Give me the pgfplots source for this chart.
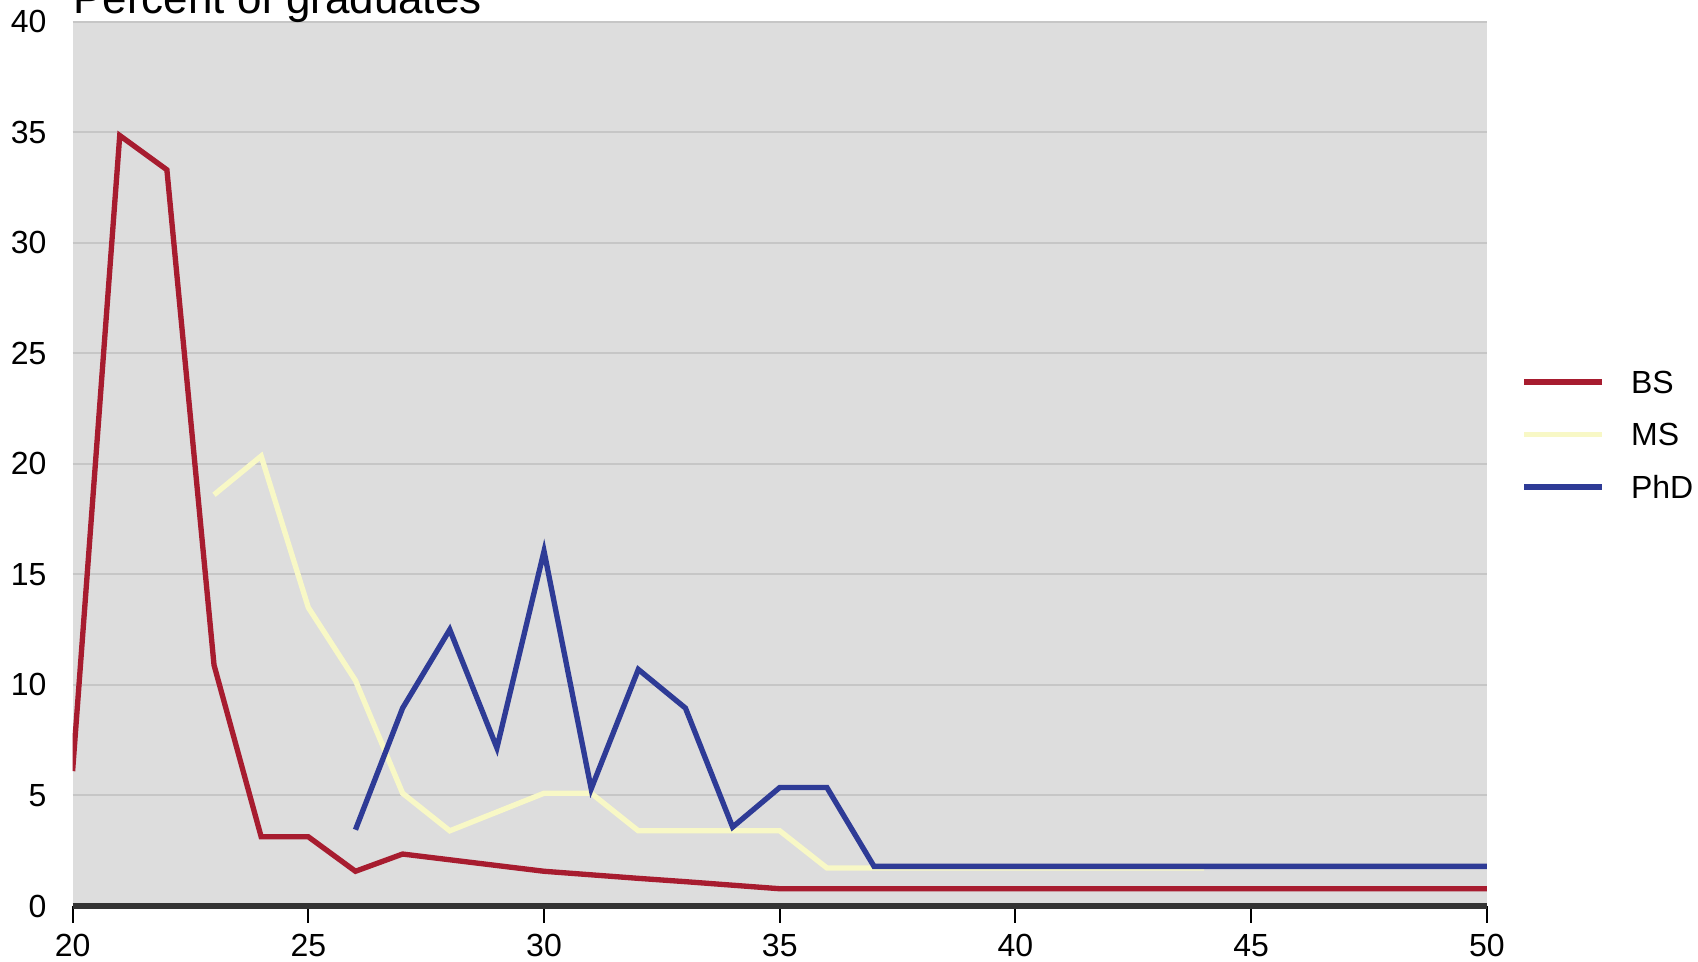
\documentclass[border=0pt]{standalone}
\usepackage{pgfplots}
\pgfplotsset{compat=1.18}
\usepackage{fontspec}
\setmainfont{Liberation Sans}
\definecolor{bsred}{HTML}{A71C2F}
\definecolor{msyel}{HTML}{F8F8C6}
\definecolor{phdblue}{HTML}{2E3B96}
\definecolor{bgc}{HTML}{DDDDDD}
\definecolor{gridc}{HTML}{C6C6C6}
\definecolor{axdark}{HTML}{333333}
\begin{document}
\begin{tikzpicture}
\begin{axis}[
  scale only axis,
  width=424.3pt, height=265.3pt,
  xmin=20, xmax=50, ymin=0, ymax=40,
  xtick={20,25,...,50}, ytick={0,5,...,40},
  axis background/.style={fill=bgc},
  axis lines*=left,
  y axis line style={draw=none},
  x axis line style={line width=1.8pt, draw=axdark},
  ymajorgrids,
  grid style={draw=gridc, line width=0.6pt},
  xtick align=outside,
  major tick length=5pt,
  x tick style={black, line width=0.6pt},
  y tick style={draw=none},
  /pgf/number format/assume math mode=true,
  tick label style={font=\fontsize{9.6}{11}\selectfont, text=black},
  yticklabel style={xshift=-4.3pt},
  legend style={at={(1.0244,0.530)}, anchor=west, draw=none, fill=none,
    inner sep=0pt, outer sep=0pt, row sep=7.5pt,
    nodes={inner sep=0pt, font=\fontsize{9.6}{11}\selectfont},
    /tikz/every odd column/.append style={column sep=7.8pt}},
  legend cell align=left,
  legend image code/.code={\draw[#1] (0pt,0.8pt) -- (23.5pt,0.8pt);},
  every axis plot/.append style={line width=1.6pt},
]
\addplot[bsred] coordinates {
(20,6.1) (21,34.85) (22,33.3) (23,10.9) (24,3.13) (25,3.13) (26,1.57) (27,2.35)
(28,2.09) (29,1.83) (30,1.57) (31,1.41) (32,1.25) (33,1.10) (34,0.94) (35,0.78)
(36,0.78) (37,0.78) (38,0.78) (39,0.78) (40,0.78) (41,0.78) (42,0.78) (43,0.78)
(44,0.78) (45,0.78) (46,0.78) (47,0.78) (48,0.78) (49,0.78) (50,0.78)};
\addlegendentry{BS}
\addplot[msyel] coordinates {
(23,18.6) (24,20.35) (25,13.5) (26,10.2) (27,5.1) (28,3.4) (29,4.25) (30,5.1)
(31,5.1) (32,3.4) (33,3.4) (34,3.4) (35,3.4) (36,1.72) (37,1.72) (38,1.72)
(39,1.72) (40,1.72) (41,1.72) (42,1.72) (43,1.72) (44,1.72)};
\addlegendentry{MS}
\addplot[phdblue] coordinates {
(26,3.45) (27,8.95) (28,12.5) (29,7.15) (30,16.05) (31,5.3) (32,10.7) (33,8.95)
(34,3.57) (35,5.36) (36,5.36) (37,1.79) (38,1.79) (39,1.79) (40,1.79) (41,1.79)
(42,1.79) (43,1.79) (44,1.79) (45,1.79) (46,1.79) (47,1.79) (48,1.79) (49,1.79) (50,1.79)};
\addlegendentry{PhD}
\end{axis}
\node[anchor=base west, inner sep=0pt, font=\fontsize{13.2}{15}\selectfont]
  at ([yshift=2.5pt]current axis.north west) {Percent of graduates};
\pgfresetboundingbox
\path[use as bounding box] ([shift={(-21.78pt,-16.8pt)}]current axis.south west) rectangle ++(509.4pt,288.6pt);
\end{tikzpicture}
\end{document}
